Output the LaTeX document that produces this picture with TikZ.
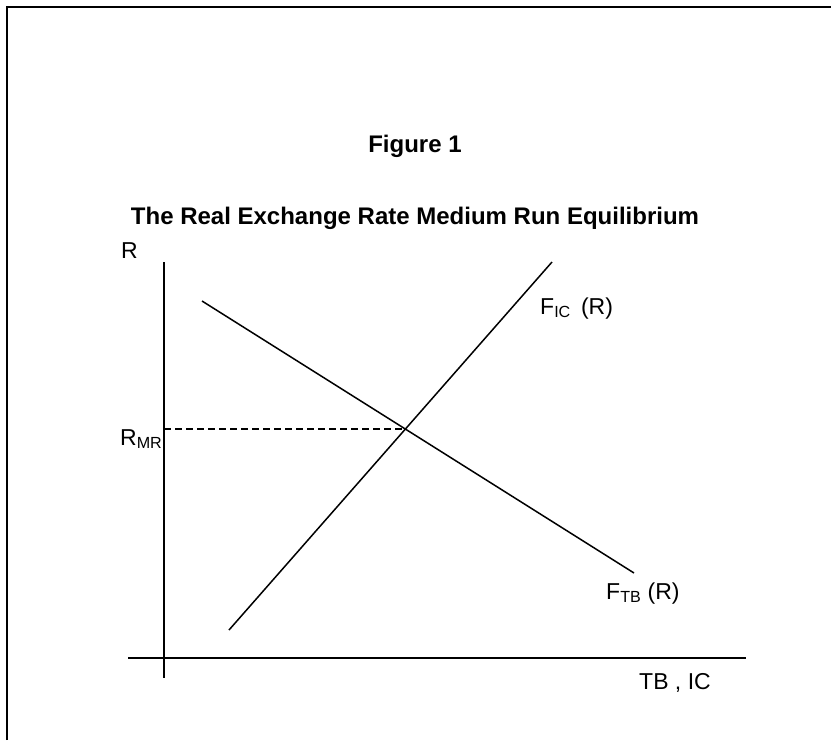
\documentclass[tikz,border=0pt]{standalone}
\usepackage{fontspec}
\setmainfont{Liberation Sans}
\usetikzlibrary{intersections}

\begin{document}
\begin{tikzpicture}[x=1pt,y=-1pt,
    lbl/.style={font=\fontsize{23}{26}\selectfont, inner sep=0pt},
    ttl/.style={font=\bfseries\fontsize{24}{28}\selectfont, inner sep=0pt}]
    \useasboundingbox (0,0) rectangle (831,740);
    % frame
    \draw[line width=2.5pt] (7,740) -- (7,7) -- (831,7);
    \node[ttl, anchor=base] (fig) at (415,152) {Figure 1};
    \node[ttl, anchor=base] (sub) at (415,224) {The Real Exchange Rate Medium Run Equilibrium};
    % axes
    \draw[line width=1.5pt] (164,262) -- (164,678);
    \draw[line width=1.5pt] (128,658) -- (746,658);
    % curves
    \draw[line width=1.5pt, name path=ftb] (202,301) -- (634,573);
    \draw[line width=1.5pt, name path=fic] (229,630) -- (552,262);
    \path[name intersections={of=ftb and fic, by=eq}];
    \draw[line width=1.2pt, dash pattern=on 7pt off 4pt] (164,0 |- eq) -- (eq);
    % labels
    \node[lbl, anchor=base west] (ry) at (121,258) {R};
    \node[lbl, anchor=base west] (rmr) at (120,445) {R\textsubscript{MR}};
    \node[lbl, anchor=base west] (fic) at (540,314) {F\textsubscript{IC}\, (R)};
    \node[lbl, anchor=base west] (ftb) at (606,599) {F\textsubscript{TB} (R)};
    \node[lbl, anchor=base west] (rx) at (639,689) {TB , IC};
\end{tikzpicture}
\end{document}
